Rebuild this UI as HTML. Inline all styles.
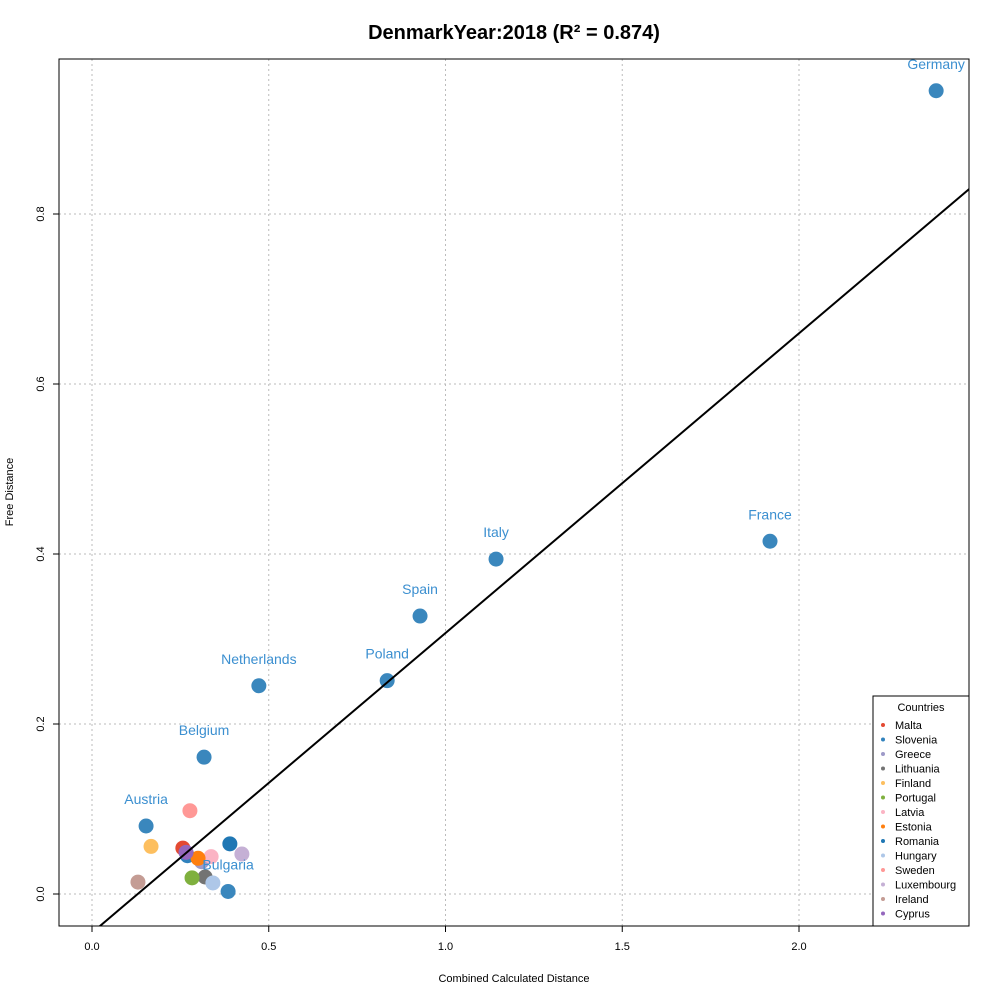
<!DOCTYPE html>
<html><head><meta charset="utf-8"><style>
body{margin:0;background:#fff;font-family:"Liberation Sans",Arial,sans-serif}
svg text{font-family:"Liberation Sans",Arial,sans-serif}
</style></head><body>
<svg id="c" width="1000" height="1000"></svg>
<script>
const names=["Malta","Slovenia","Greece","Lithuania","Finland","Portugal","Latvia","Estonia","Romania","Hungary","Sweden","Luxembourg","Ireland","Cyprus","Austria","Belgium","Netherlands","Poland","Spain","Italy","France","Germany","Bulgaria"];
const xVals=[0.257,0.27,0.31,0.32,0.167,0.283,0.337,0.30,0.39,0.342,0.277,0.424,0.13,0.266,0.153,0.317,0.472,0.835,0.928,1.143,1.918,2.388,0.385];
const yVals=[0.054,0.045,0.038,0.02,0.056,0.019,0.044,0.042,0.059,0.013,0.098,0.047,0.014,0.049,0.080,0.161,0.245,0.251,0.327,0.394,0.415,0.945,0.003];
const colors=["#e34a33","#3182bd","#9e9ac8","#737373","#fdbf5f","#7fb03e","#fbb4c4","#ff7f0e","#1f77b4","#aec7e8","#ff9896","#c5b0d5","#c49c94","#9467bd","#3a87bd","#3a87bd","#3a87bd","#3a87bd","#3a87bd","#3a87bd","#3a87bd","#3a87bd","#3a87bd"];
const labeled=["Austria","Belgium","Netherlands","Poland","Spain","Italy","France","Germany","Bulgaria"];
const legendNames=names.slice(0,14);
const xTicks=[0,0.5,1,1.5,2];const xTickLabels=["0.0","0.5","1.0","1.5","2.0"];
const yTicks=[0,0.2,0.4,0.6,0.8];const yTickLabels=["0.0","0.2","0.4","0.6","0.8"];
const slope=0.3526,intercept=-0.0456;
const L=59,R=969,T=59,B=926;
const sx=v=>92+v*353.5, sy=v=>894-v*850;
const svg=document.getElementById('c');const NS="http://www.w3.org/2000/svg";
function mk(t,a,p){const e=document.createElementNS(NS,t);for(const k in a)e.setAttribute(k,a[k]);(p||svg).appendChild(e);return e;}
const grid=mk('g',{});
xTicks.forEach(v=>mk('line',{x1:sx(v),x2:sx(v),y1:T,y2:B,stroke:'#bbb','stroke-dasharray':'2,3'},grid));
yTicks.forEach(v=>mk('line',{x1:L,x2:R,y1:sy(v),y2:sy(v),stroke:'#bbb','stroke-dasharray':'2,3'},grid));
const ax=mk('g',{});
xTicks.forEach((v,i)=>{mk('line',{x1:sx(v),x2:sx(v),y1:B,y2:B+6,stroke:'#000'},ax);const t=mk('text',{x:sx(v),y:B+24,'font-size':11,'text-anchor':'middle'},ax);t.textContent=xTickLabels[i];});
yTicks.forEach((v,i)=>{mk('line',{x1:L,x2:L-6,y1:sy(v),y2:sy(v),stroke:'#000'},ax);const t=mk('text',{x:44,y:sy(v),'font-size':11,'text-anchor':'middle',transform:`rotate(-90 44 ${sy(v)})`},ax);t.textContent=yTickLabels[i];});
const pts=mk('g',{});
names.forEach((n,i)=>{const c=mk('circle',{cx:sx(xVals[i]),cy:sy(yVals[i]),r:7.5,fill:colors[i]},pts);});
const cp=mk('clipPath',{id:'cp'});mk('rect',{x:L,y:T,width:R-L,height:B-T},cp);
const x0=-0.2,x1=2.6;
const ln=mk('line',{x1:sx(x0),y1:sy(intercept+slope*x0),x2:sx(x1),y2:sy(intercept+slope*x1),stroke:'#000','stroke-width':2,'clip-path':'url(#cp)'});

const lb=mk('g',{'clip-path':'url(#cp)'});
labeled.forEach(n=>{const i=names.indexOf(n);const t=mk('text',{x:sx(xVals[i]),y:sy(yVals[i])-22,'font-size':14,fill:'#3b8fd0','text-anchor':'middle'},lb);t.textContent=n;});
const fr=mk('rect',{x:L,y:T,width:R-L,height:B-T,fill:'none',stroke:'#000'});
const lg=mk('g',{});
mk('rect',{x:873,y:696,width:96,height:230,fill:'#fff',stroke:'#000'},lg);
const lt=mk('text',{x:921,y:711,'font-size':11,'text-anchor':'middle'},lg);lt.textContent='Countries';
legendNames.forEach((n,i)=>{const y=726+i*14.5;mk('circle',{cx:883,cy:y-1,r:2,fill:colors[i]},lg);const t=mk('text',{x:895,y:y+3,'font-size':11},lg);t.textContent=n;});
const tt=mk('text',{x:514,y:39,'font-size':20,'font-weight':'bold','text-anchor':'middle'});tt.textContent='DenmarkYear:2018 (R² = 0.874)';
const xt=mk('text',{x:514,y:982,'font-size':11,'text-anchor':'middle'});xt.textContent='Combined Calculated Distance';
const yt=mk('text',{x:13,y:492,'font-size':11,'text-anchor':'middle',transform:'rotate(-90 13 492)'});yt.textContent='Free Distance';
</script>
</body></html>
